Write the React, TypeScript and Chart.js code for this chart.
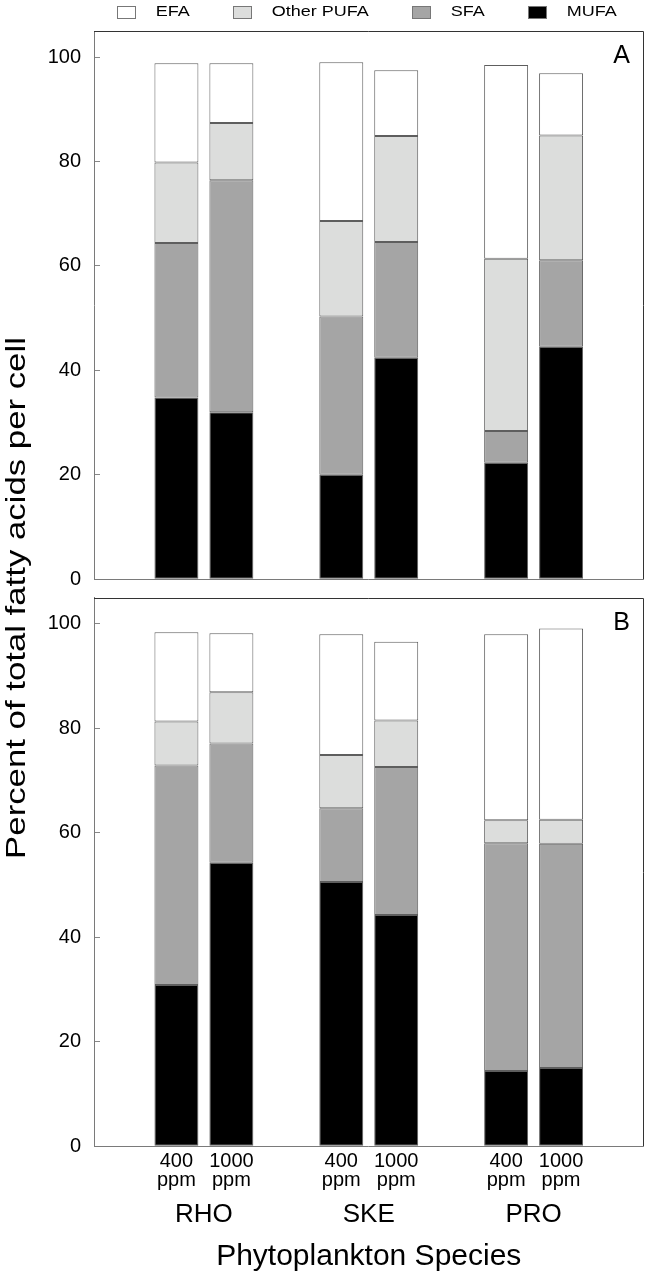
import React, { useEffect, useRef } from "react";
import { Chart, registerables } from "chart.js";

Chart.register(...registerables);

// ---------- data ----------
const species = ["RHO", "SKE", "PRO"];
const doses = ["400 ppm", "1000 ppm"];
const components = ["EFA", "Other PUFA", "SFA", "MUFA"]; // legend order
const panels = ["A", "B"];
const yTicks = [0, 20, 40, 60, 80, 100];
const xTitle = "Phytoplankton Species";
const yTitle = "Percent of total fatty acids per cell";

// bar order: RHO 400, RHO 1000, SKE 400, SKE 1000, PRO 400, PRO 1000
const mufaA = [34.8, 32.0, 20.0, 42.4, 22.3, 44.5];
const sfaA = [29.6, 44.4, 30.3, 22.2, 6.1, 16.6];
const pufaA = [15.4, 11.0, 18.3, 20.3, 33.0, 23.9];
const efaA = [19.0, 11.4, 30.4, 12.6, 37.1, 11.9];

const mufaB = [30.9, 54.3, 50.6, 44.3, 14.4, 15.0];
const sfaB = [42.0, 22.8, 14.1, 28.3, 43.6, 42.9];
const pufaB = [8.4, 9.8, 10.2, 8.9, 4.4, 4.6];
const efaB = [17.1, 11.3, 23.1, 15.1, 35.6, 36.6];

// ---------- styles ----------
const FONT = '"Liberation Sans", Arial, Helvetica, sans-serif';
const fills: Record<string, string> = {
  EFA: "#ffffff",
  "Other PUFA": "#dcdddc",
  SFA: "#a5a5a5",
  MUFA: "#000000",
};

const panelSeries: Record<string, Record<string, number[]>> = {
  A: { MUFA: mufaA, SFA: sfaA, "Other PUFA": pufaA, EFA: efaA },
  B: { MUFA: mufaB, SFA: sfaB, "Other PUFA": pufaB, EFA: efaB },
};
const stackOrder = ["MUFA", "SFA", "Other PUFA", "EFA"];

const nDose = doses.length;
const groupStride = nDose + 1;
const barX = (i: number) => Math.floor(i / nDose) * groupStride + 1.5 + (i % nDose);
const groupX = (g: number) => g * groupStride + 1.5 + (nDose - 1) / 2;
const xMax = species.length * groupStride + 1;
const nBars = species.length * nDose;

const panelAxis = (p: string) => "y" + p;

const framePlugin = {
  id: "frameAndText",
  afterDraw(chart: any) {
    const ctx = chart.ctx;
    const { left, right } = chart.chartArea;
    ctx.save();
    panels.forEach((p) => {
      const s = chart.scales[panelAxis(p)];
      const top = Math.round(s.top) + 0.5;
      const bottom = Math.round(s.bottom) + 0.5;
      const r = Math.round(right) - 0.5;
      ctx.lineWidth = 1;
      ctx.strokeStyle = "#333333";
      ctx.beginPath();
      ctx.moveTo(left, top);
      ctx.lineTo(r, top);
      ctx.lineTo(r, bottom);
      ctx.stroke();
      ctx.strokeStyle = "#7a7a7a";
      ctx.beginPath();
      ctx.moveTo(left, bottom);
      ctx.lineTo(r, bottom);
      ctx.stroke();
      // panel letter
      ctx.fillStyle = "#000";
      ctx.font = `25px ${FONT}`;
      ctx.textAlign = "center";
      ctx.textBaseline = "middle";
      ctx.fillText(p, right - 22, s.top + 25);
    });

    // y title (slightly stretched along its length, like the reference)
    ctx.save();
    ctx.translate(17, 598);
    ctx.rotate(-Math.PI / 2);
    ctx.scale(1.22, 1);
    ctx.font = `28.5px ${FONT}`;
    ctx.fillStyle = "#000";
    ctx.textAlign = "center";
    ctx.textBaseline = "middle";
    ctx.fillText(yTitle, 0, 0);
    ctx.restore();

    // legend
    const boxW = 18, boxH = 12, gap = 21, spacing = 43, fs = 15, sx = 1.2;
    ctx.font = `${fs}px ${FONT}`;
    const widths = components.map((c) => ctx.measureText(c).width * sx);
    const total =
      widths.reduce((a, w) => a + boxW + gap + w, 0) + spacing * (components.length - 1);
    let x = (left + right) / 2 - total / 2 - 2;
    const cy = 11.5;
    components.forEach((c, k) => {
      const bx = Math.round(x) + 0.5;
      const by = Math.round(cy - boxH / 2) + 0.5;
      ctx.fillStyle = fills[c];
      ctx.fillRect(bx, by, boxW, boxH);
      ctx.strokeStyle = "#777";
      ctx.lineWidth = 1;
      ctx.strokeRect(bx, by, boxW, boxH);
      const tx = x + boxW + gap;
      ctx.save();
      ctx.translate(tx, cy + 0.5);
      ctx.scale(sx, 1);
      ctx.fillStyle = "#000";
      ctx.textAlign = "left";
      ctx.textBaseline = "middle";
      ctx.fillText(c, 0, 0);
      ctx.restore();
      x = tx + widths[k] + spacing;
    });
    ctx.restore();
  },
};

const yAxis = (p: string, weight: number) => ({
  type: "linear",
  axis: "y",
  position: "left",
  stack: "panels",
  stackWeight: weight,
  stacked: true,
  min: 0,
  max: 105,
  afterBuildTicks: (s: any) => {
    s.ticks = yTicks.map((v) => ({ value: v }));
  },
  afterFit: (s: any) => {
    s.width = 94;
  },
  ticks: {
    color: "#000",
    padding: 19,
    font: { family: FONT, size: 20 },
  },
  grid: {
    display: true,
    drawOnChartArea: false,
    drawTicks: true,
    tickLength: -6,
    color: "#888",
  },
  border: { display: true, color: "#7a7a7a" },
});

export default function App() {
  const ref = useRef<HTMLCanvasElement | null>(null);

  useEffect(() => {
    if (!ref.current) return;
    const datasets: any[] = [];
    panels.forEach((p) => {
      stackOrder.forEach((c) => {
        datasets.push({
          label: `${c} (${p})`,
          data: panelSeries[p][c].map((v, i) => ({ x: barX(i), y: v })),
          xAxisID: "x",
          yAxisID: panelAxis(p),
          backgroundColor: fills[c],
          borderColor: "#5e5e5e",
          borderWidth: 1,
          borderSkipped: false,
          barPercentage: 1,
          categoryPercentage: 0.8,
        });
      });
    });

    const chart = new Chart(ref.current, {
      type: "bar",
      data: { datasets },
      plugins: [framePlugin],
      options: {
        responsive: false,
        animation: false,
        events: [],
        layout: { padding: { top: 30, right: 1.5, left: 0, bottom: 0 } },
        plugins: {
          legend: { display: false },
          tooltip: { enabled: false },
        },
        scales: {
          x: {
            type: "linear",
            axis: "x",
            position: "bottom",
            min: 0,
            max: xMax,
            offset: false,
            stacked: true,
            afterBuildTicks: (s: any) => {
              s.ticks = Array.from({ length: nBars }, (_, i) => ({ value: barX(i) }));
            },
            afterFit: (s: any) => {
              s.height = 50;
            },
            ticks: {
              autoSkip: false,
              maxRotation: 0,
              minRotation: 0,
              padding: 5.2,
              color: "#000",
              font: { family: FONT, size: 20, lineHeight: 0.95 },
              callback: (_v: any, i: number) => doses[i % nDose].split(" "),
            },
            grid: { display: false, drawTicks: false },
            border: { display: false },
          },
          x2: {
            type: "linear",
            axis: "x",
            position: "bottom",
            min: 0,
            max: xMax,
            offset: false,
            afterBuildTicks: (s: any) => {
              s.ticks = species.map((_, g) => ({ value: groupX(g) }));
            },
            afterFit: (s: any) => {
              s.height = 78.7;
            },
            ticks: {
              autoSkip: false,
              maxRotation: 0,
              minRotation: 0,
              padding: 5.2,
              color: "#000",
              font: { family: FONT, size: 26, lineHeight: 1 },
              callback: (_v: any, i: number) => species[i],
            },
            grid: { display: false, drawTicks: false },
            border: { display: false },
            title: {
              display: true,
              text: xTitle,
              color: "#000",
              font: { family: FONT, size: 30, lineHeight: 1 },
              padding: { top: 10, bottom: 3 },
            },
          },
          yB: yAxis("B", 549),
          gap: {
            type: "linear",
            axis: "y",
            position: "left",
            stack: "panels",
            stackWeight: 18.6,
            min: 0,
            max: 1,
            ticks: { display: false },
            grid: { display: false, drawTicks: false },
            border: { display: false },
          },
          yA: yAxis("A", 548.7),
        } as any,
      },
    } as any);

    return () => chart.destroy();
  }, []);

  return (
    <div style={{ position: "absolute", left: 0, top: 0, width: 645, height: 1275, background: "#fff" }}>
      <canvas ref={ref} width={645} height={1275} style={{ display: "block" }} />
    </div>
  );
}
